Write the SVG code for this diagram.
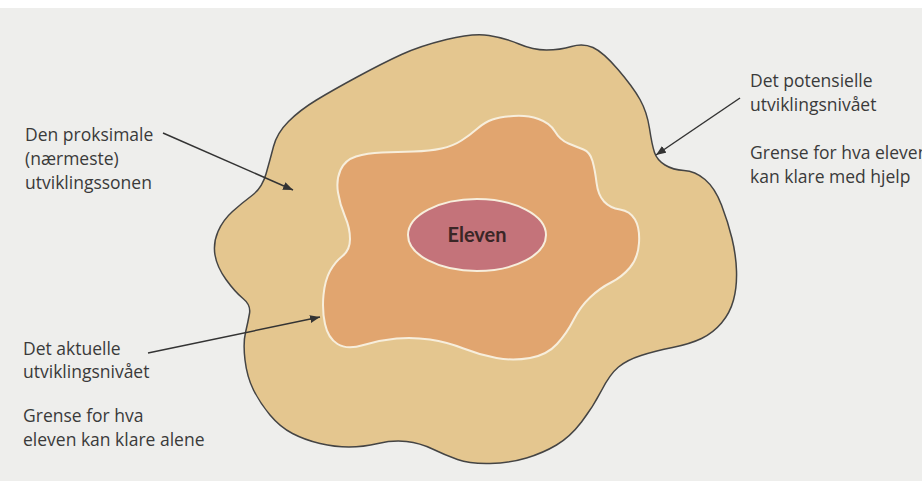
<svg xmlns="http://www.w3.org/2000/svg" width="922" height="481" viewBox="0 0 922 481">
<defs>
<style>
.lbl{font-family:"Open Sans","Liberation Sans",sans-serif;font-size:17.5px;fill:#3a3a3a}
.con{fill:none;stroke:#333;stroke-width:1.5}
</style>
<marker id="ah" markerUnits="userSpaceOnUse" markerWidth="12" markerHeight="10" refX="10" refY="4" orient="auto">
<path d="M0,0 L10,4 L0,8 Z" fill="#333"/>
</marker>
</defs>
<rect x="0" y="0" width="922" height="481" fill="#eeeeec"/>
<rect x="0" y="0" width="922" height="8" fill="#ffffff"/>
<g id="outer-zone">
<path fill="#e4c68f" stroke="#444" stroke-width="1.5" d="M446.5,39.5 Q473,33 489,35.5 Q505,38 519,44 Q533,50 546.5,50 Q560,50 571.5,46.5 Q583,43 593,47.5 Q603,52 618,69.5 Q633,87 640,99.5 Q647,112 649.5,128.5 Q652,145 654.5,152.5 Q657,160 665,165 Q673,170 684,170.5 Q695,171 705,179.5 Q715,188 721.5,205 Q728,222 732,238.5 Q736,255 736.5,271 Q737,287 733.5,300 Q730,313 721.5,323 Q713,333 701.5,338.5 Q690,344 672.5,347.5 Q655,351 641,355.5 Q627,360 618.5,367 Q610,374 601.5,390.5 Q593,407 581.5,422 Q570,437 556.5,445 Q543,453 526.5,458 Q510,463 490,463.5 Q470,464 457.5,459.5 Q445,455 432.5,449 Q420,443 406.5,441.5 Q393,440 378,443.5 Q363,447 349,447 Q335,447 320,443.5 Q305,440 292.5,433.5 Q280,427 270,415 Q260,403 253.5,390 Q247,377 245,360 Q243,343 245.5,332.5 Q248,322 249.5,313.5 Q251,305 243,298.5 Q235,292 226,279.5 Q217,267 215,255 Q213,243 218,231.5 Q223,220 232.5,211.5 Q242,203 252,195.5 Q262,188 266,174 Q270,160 273.5,146.5 Q277,133 288.5,121.5 Q300,110 316.5,100 Q333,90 358,76.5 Q383,63 401.5,54.5 Q420,46 446.5,39.5 Z"/>
</g>
<g id="inner-zone">
<path fill="#e1a56f" stroke="#f7eedc" stroke-width="2" d="M492.5,119.5 Q500,117 513.5,116 Q527,115 538.5,119 Q550,123 555,131.5 Q560,140 568.5,143.5 Q577,147 583.5,149.5 Q590,152 592.5,161 Q595,170 596.5,182.5 Q598,195 604,201.5 Q610,208 620,209.5 Q630,211 635,219.5 Q640,228 639,243 Q638,258 630,267.5 Q622,277 611,282.5 Q600,288 590,297.5 Q580,307 573.5,320 Q567,333 557,344 Q547,355 530,358 Q513,361 496.5,358 Q480,355 463.5,348.5 Q447,342 430,339.5 Q413,337 396.5,338.5 Q380,340 363.5,345 Q347,350 337.5,344 Q328,338 325,324 Q322,310 323.5,295 Q325,280 330,271 Q335,262 342.5,256 Q350,250 350,239 Q350,228 345,216.5 Q340,205 338,192.5 Q336,180 340.5,170 Q345,160 356,156.5 Q367,153 382,152.5 Q397,152 413.5,151.5 Q430,151 441.5,148.5 Q453,146 461.5,140.5 Q470,135 477.5,128.5 Q485,122 492.5,119.5 Z"/>
</g>
<g id="eleven">
<ellipse cx="477" cy="235" rx="69" ry="36" fill="#c4737a" stroke="#f7eedc" stroke-width="2"/>
<text x="477" y="242" text-anchor="middle" font-family="Lato,'Liberation Sans',sans-serif" font-weight="bold" font-size="20" fill="#3a2626">Eleven</text>
</g>
<g id="label-proksimale">
<text class="lbl" x="25" y="141">Den proksimale</text>
<text class="lbl" x="25" y="165">(nærmeste)</text>
<text class="lbl" x="25" y="189">utviklingssonen</text>
</g>
<g id="label-potensielle">
<text class="lbl" x="750" y="87">Det potensielle</text>
<text class="lbl" x="750" y="111">utviklingsnivået</text>
<text class="lbl" x="750" y="159">Grense for hva eleven</text>
<text class="lbl" x="750" y="183">kan klare med hjelp</text>
</g>
<g id="label-aktuelle">
<text class="lbl" x="23" y="355">Det aktuelle</text>
<text class="lbl" x="23" y="378">utviklingsnivået</text>
<text class="lbl" x="23" y="422">Grense for hva</text>
<text class="lbl" x="23" y="446">eleven kan klare alene</text>
</g>
<g id="connectors">
<line class="con" x1="163" y1="133" x2="293" y2="190" marker-end="url(#ah)"/>
<line class="con" x1="740" y1="98" x2="656" y2="155" marker-end="url(#ah)"/>
<line class="con" x1="148" y1="353" x2="320" y2="317" marker-end="url(#ah)"/>
</g>
</svg>
